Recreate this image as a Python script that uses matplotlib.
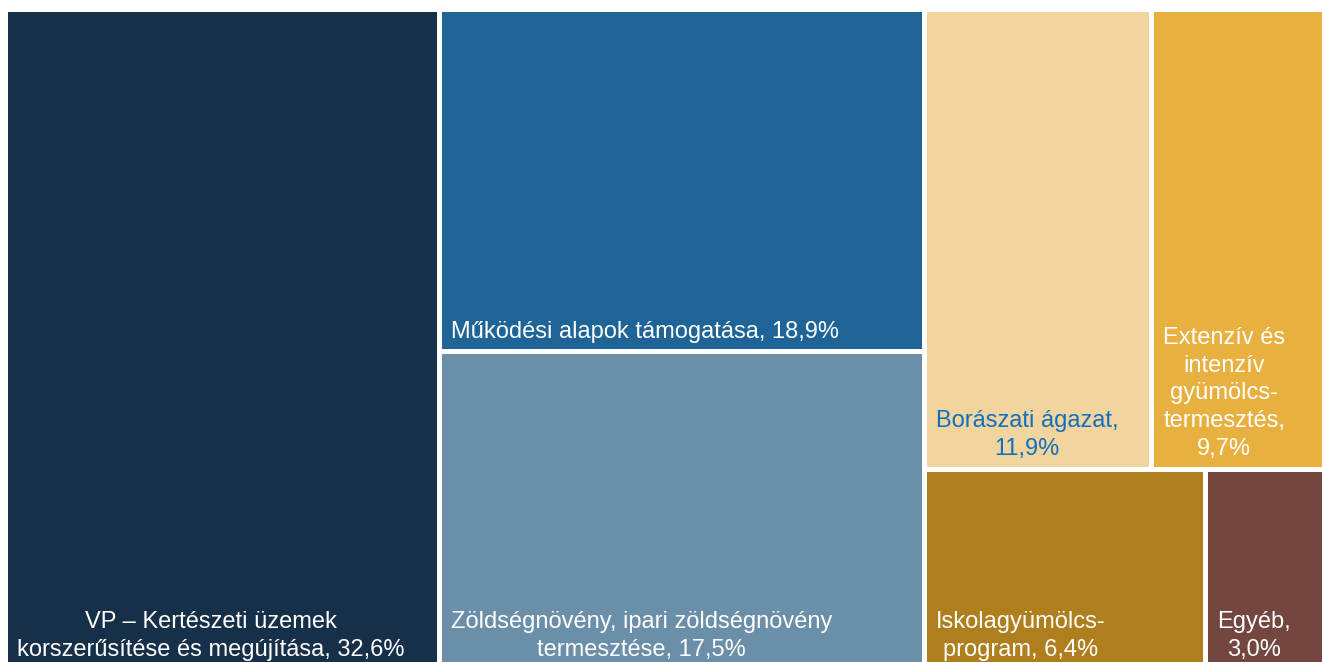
import matplotlib.pyplot as plt
from matplotlib.patches import Rectangle

plt.rcParams['font.family'] = ['Liberation Sans', 'DejaVu Sans']

# DATA
labels = [
    "VP – Kertészeti üzemek\nkorszerűsítése és megújítása, 32,6%",
    "Működési alapok támogatása, 18,9%",
    "Zöldségnövény, ipari zöldségnövény\ntermesztése, 17,5%",
    "Borászati ágazat,\n11,9%",
    "Extenzív és\nintenzív\ngyümölcs-\ntermesztés,\n9,7%",
    "Iskolagyümölcs-\nprogram, 6,4%",
    "Egyéb,\n3,0%",
]
values = [32.6, 18.9, 17.5, 11.9, 9.7, 6.4, 3.0]
colors = ['#17304A', '#1E6496', '#6B8FA8', '#F2D49E', '#E8B03F', '#AE7F1C', '#744640']
text_colors = ['white', 'white', 'white', '#1070C0', 'white', 'white', 'white']

# treemap grouping: columns -> rows -> items (indices into the lists above)
columns = [
    [[0]],
    [[1], [2]],
    [[3, 4], [5, 6]],
]

# layout
W, H = 1322, 662
fig = plt.figure(figsize=(W / 100, H / 100), dpi=100)
left_px, right_px, top_px, bottom_px = 4.5, 1336.5, 8.5, 669
ax = fig.add_axes([left_px / W, 1 - bottom_px / H,
                   (right_px - left_px) / W, (bottom_px - top_px) / H])
total = sum(values)
ax.set_xlim(0, total)
ax.set_ylim(0, 1)
ax.axis('off')

x = 0
for col in columns:
    col_sum = sum(values[i] for row in col for i in row)
    y = 1
    for row in col:
        row_sum = sum(values[i] for i in row)
        h = row_sum / col_sum
        xx = x
        for i in row:
            w = values[i] / row_sum * col_sum
            ax.add_patch(Rectangle((xx, y - h), w, h, facecolor=colors[i],
                                   edgecolor='white', linewidth=3.6))
            ax.annotate(labels[i], xy=(xx, y - h), xytext=(8.8, 6),
                        textcoords='offset points', ha='left', va='bottom',
                        multialignment='center', fontsize=17,
                        color=text_colors[i], linespacing=1.35)
            xx += w
        y -= h
    x += col_sum

fig.savefig('out.png', dpi=100)
